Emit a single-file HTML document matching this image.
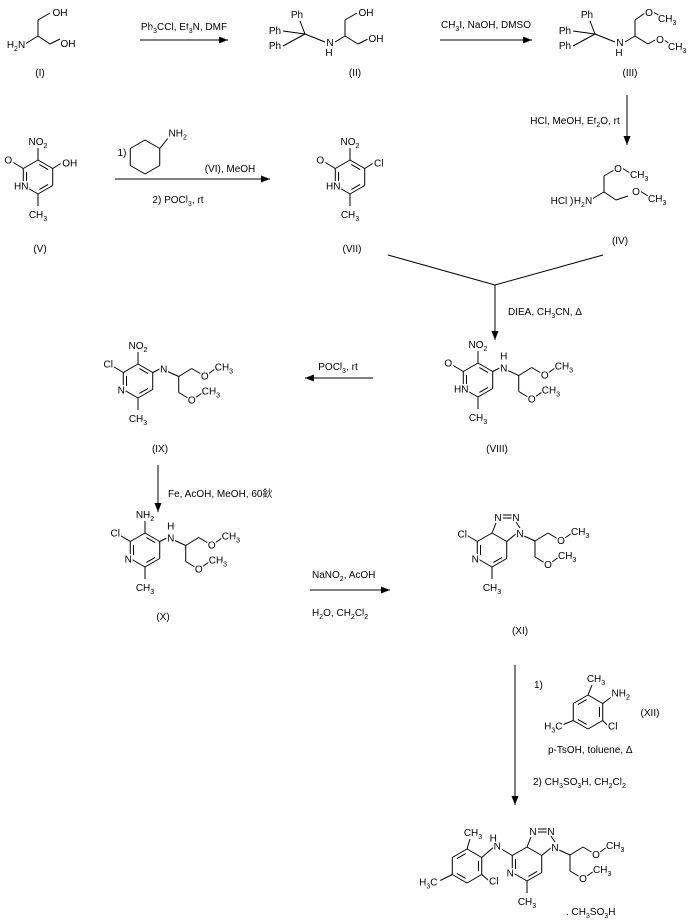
<!DOCTYPE html>
<html><head><meta charset="utf-8"><style>
html,body{margin:0;padding:0;background:#fff;width:688px;height:920px;overflow:hidden}
svg text{font-family:"Liberation Sans","Noto Sans CJK SC",sans-serif;font-size:10px;fill:#000;stroke:#fff;stroke-width:3px;paint-order:stroke;stroke-linejoin:round}
svg line,svg polyline{stroke:#000;stroke-width:1;fill:none}
</style></head><body>
<svg id="s" width="688" height="920" viewBox="0 0 688 920" xmlns="http://www.w3.org/2000/svg"></svg>
<script>
const L=[],T=[];
function l(a,b,c,d){L.push(`<line x1="${a}" y1="${b}" x2="${c}" y2="${d}"/>`);}
function fmt(t){return t.replace(/_(\d)/g,'<tspan font-size="7" baseline-shift="-3">$1</tspan>');}
function t(x,y,s,a){T.push(`<text x="${x}" y="${y}" text-anchor="${a||'middle'}">${fmt(s)}</text>`);}
function arrow(x1,y1,x2,y2){l(x1,y1,x2,y2);const dx=x2-x1,dy=y2-y1,n=Math.hypot(dx,dy),ux=dx/n,uy=dy/n,px=-uy,py=ux;
L.push(`<polygon points="${x2},${y2} ${x2-ux*9+px*3.5},${y2-uy*9+py*3.5} ${x2-ux*9-px*3.5},${y2-uy*9-py*3.5}" fill="#000"/>`);}
function hexv(cx,cy,r){r=r||17;const h=r*0.866;return[[cx,cy-r],[cx+h,cy-r/2],[cx+h,cy+r/2],[cx,cy+r],[cx-h,cy+r/2],[cx-h,cy-r/2]];}
function ring(cx,cy,dbl){const v=hexv(cx,cy);for(let i=0;i<6;i++){const a=v[i],b=v[(i+1)%6];l(a[0],a[1],b[0],b[1]);}
(dbl||[]).forEach(i=>{const a=v[i],b=v[(i+1)%6];const k=0.78,m=[(a[0]-cx)*k+cx,(a[1]-cy)*k+cy],n=[(b[0]-cx)*k+cx,(b[1]-cy)*k+cy];
const sh=0.12;l(m[0]+(n[0]-m[0])*sh,m[1]+(n[1]-m[1])*sh,n[0]-(n[0]-m[0])*sh,n[1]-(n[1]-m[1])*sh);});return v;}
function chain(nx,ny,hTop){t(nx,ny+4,'N');if(hTop)t(nx,ny-8,'H');
const c1=[nx+15,ny+8];l(nx+4,ny+3,c1[0],c1[1]);l(c1[0],c1[1],nx+28,ny);l(nx+28,ny,nx+38,ny+6);t(nx+41,ny+11,'O');l(nx+45,ny+5,nx+52,ny);t(nx+51,ny+2,'CH_3','start');
l(c1[0],c1[1],c1[0],ny+24);l(c1[0],ny+24,nx+25,ny+30);t(nx+28,ny+35,'O');l(nx+32,ny+29,nx+39,ny+24);t(nx+38,ny+26,'CH_3','start');}
function pyr(cx,cy,top,ul,ll,ur){const v=ring(cx,cy,[0,2,4]);
l(v[0][0],v[0][1],v[0][0],v[0][1]-12);t(v[0][0],v[0][1]-15,top);
l(v[5][0],v[5][1],v[5][0]-10,v[5][1]-6);t(v[5][0]-15,v[5][1]-5,ul);
t(v[4][0]-2,v[4][1]+4,ll);
l(v[3][0],v[3][1],v[3][0],v[3][1]+12);t(v[3][0],v[3][1]+24,'CH_3');return v;}
t(16,48,'H_2N');l(25,44,38,36);l(38,36,50,44);l(50,44,60,39);t(68,47,'OH');l(38,36,38,20);l(38,20,50,13);t(60,16,'OH');t(40,76,'(I)');
arrow(140,40,228,40);t(184,30,'Ph_3CCl, Et_3N, DMF');
function trityl(x){t(x+297,18,'Ph');t(x+275,34,'Ph');t(x+275,49,'Ph');l(x+300,21,x+305,34);l(x+283,31,x+305,34);l(x+283,46,x+305,34);
l(x+305,34,x+325,42);t(x+330,46,'N');t(x+329,56,'H');l(x+335,42,x+345,36);}
trityl(0);l(345,36,345,20);l(345,20,357,13);t(366,16,'OH');l(345,36,358,44);l(358,44,368,39);t(376,42,'OH');t(355,76,'(II)');
arrow(440,40,532,40);t(486,28,'CH_3I, NaOH, DMSO');
trityl(290);l(635,36,635,20);l(635,20,645,13);t(649,16,'O');l(653,12,660,16);t(658,22,'CH_3','start');
l(635,36,648,44);l(648,44,655,40);t(660,43,'O');l(664,40,670,44);t(668,50,'CH_3','start');t(630,76,'(III)');
arrow(627,95,627,145);t(575,124,'HCl, MeOH, Et_2O, rt');
t(562,204,'HCl )');t(583,204,'H_2N');l(592,199,604,192);l(604,192,604,176);l(604,176,614,170);t(618,172,'O');l(622,168,630,173);t(630,178,'CH_3','start');
l(604,192,616,200);l(616,200,628,196);t(636,195,'O');l(640,191,648,196);t(648,202,'CH_3','start');t(620,244,'(IV)');
{const v=pyr(38,177,'NO_2','O','HN');l(v[1][0],v[1][1],v[1][0]+8,v[1][1]-5);t(v[1][0]+17,v[1][1]-2,'OH');}
t(40,252,'(V)');
{const v=ring(145,157);l(v[1][0],v[1][1],v[1][0]+8,v[1][1]-10);t(v[1][0]+18,v[1][1]-12,'NH_2');}
t(122,156,'1)');t(230,172,'(VI),  MeOH');
arrow(115,179,270,179);t(178,203,'2) POCl_3, rt');
{const v=pyr(350,177,'NO_2','O','HN');l(v[1][0],v[1][1],v[1][0]+8,v[1][1]-5);t(v[1][0]+14,v[1][1]-2,'Cl');}
t(352,252,'(VII)');
l(388,255,495,285);l(603,255,495,285);arrow(495,285,495,340);t(508,315,'DIEA, CH_3CN, Δ','start');
{const v=pyr(478,380,'NO_2','O','HN');l(v[1][0],v[1][1],v[1][0]+8,v[1][1]-4);chain(v[1][0]+11,v[1][1]-4,true);}
t(497,452,'(VIII)');
arrow(373,378,305,378);t(338,370,'POCl_3, rt');
{const v=pyr(138,381,'NO_2','Cl','N');l(v[1][0],v[1][1],v[1][0]+8,v[1][1]-4);chain(v[1][0]+11,v[1][1]-4,false);}
t(160,452,'(IX)');
arrow(158,465,158,512);t(168,497,'Fe, AcOH, MeOH, 60鈥','start');
{const v=pyr(145,550,'NH_2','Cl','N');l(v[1][0],v[1][1],v[1][0]+8,v[1][1]-4);chain(v[1][0]+11,v[1][1]-4,true);}
t(163,620,'(X)');
arrow(310,590,390,590);t(312,578,'NaNO_2, AcOH','start');t(312,616,'H_2O, CH_2Cl_2','start');
function triaz(cx,cy){const v=ring(cx,cy,[2,4]);const a=v[0],b=v[1];
const n3=[cx+6,cy-33],n2=[cx+24,cy-33],n1=[cx+28,cy-17];
l(a[0],a[1],n3[0]-2,n3[1]+6);l(b[0],b[1],n1[0]-3,n1[1]);l(n1[0],n1[1]-5,n2[0],n2[1]+5);l(n3[0]+5,n3[1]-2,n2[0]-4,n2[1]-2);l(n3[0]+5,n3[1]+1,n2[0]-4,n2[1]+1);
t(n3[0],n3[1]+4,'N');t(n2[0],n2[1]+4,'N');chain(n1[0],n1[1],false);return v;}
{const v=triaz(492,550);l(v[5][0],v[5][1],v[5][0]-10,v[5][1]-6);t(v[5][0]-15,v[5][1]-4,'Cl');t(v[4][0]-2,v[4][1]+4,'N');
l(v[3][0],v[3][1],v[3][0],v[3][1]+12);t(v[3][0],v[3][1]+24,'CH_3');}
t(520,634,'(XI)');
arrow(515,665,515,805);t(534,688,'1)','start');t(548,753,'p-TsOH, toluene, Δ','start');t(533,785,'2)  CH_3SO_3H, CH_2Cl_2','start');
{const v=ring(588,712,[1,3,5]);l(v[0][0],v[0][1],v[0][0]+4,v[0][1]-10);t(v[0][0]+8,v[0][1]-13,'CH_3');
l(v[1][0],v[1][1],v[1][0]+8,v[1][1]-6);t(v[1][0]+18,v[1][1]-7,'NH_2');l(v[2][0],v[2][1],v[2][0]+6,v[2][1]+6);t(v[2][0]+10,v[2][1]+9,'Cl');
l(v[4][0],v[4][1],v[4][0]-10,v[4][1]+4);t(v[4][0]-20,v[4][1]+9,'H_3C');}
t(650,716,'(XII)');
{const v=triaz(527,864);t(v[4][0]-2,v[4][1]+4,'N');l(v[3][0],v[3][1],v[3][0],v[3][1]+12);t(v[3][0],v[3][1]+24,'CH_3');
l(v[5][0],v[5][1],v[5][0]-10,v[5][1]-6);t(v[5][0]-15,v[5][1]-6,'N');t(v[5][0]-19,v[5][1]-14,'H');
const w=ring(467,866,[1,3,5]);l(w[1][0],w[1][1],v[5][0]-19,v[5][1]-8);
l(w[0][0],w[0][1],w[0][0]+3,w[0][1]-10);t(w[0][0]+6,w[0][1]-13,'CH_3');
l(w[2][0],w[2][1],w[2][0]+7,w[2][1]+6);t(w[2][0]+12,w[2][1]+10,'Cl');
l(w[4][0],w[4][1],w[4][0]-12,w[4][1]+6);t(w[4][0]-24,w[4][1]+11,'H_3C');}
t(566,915,'. CH_3SO_3H','start');
document.getElementById('s').innerHTML=L.join('')+T.join('');
</script>
</body></html>
